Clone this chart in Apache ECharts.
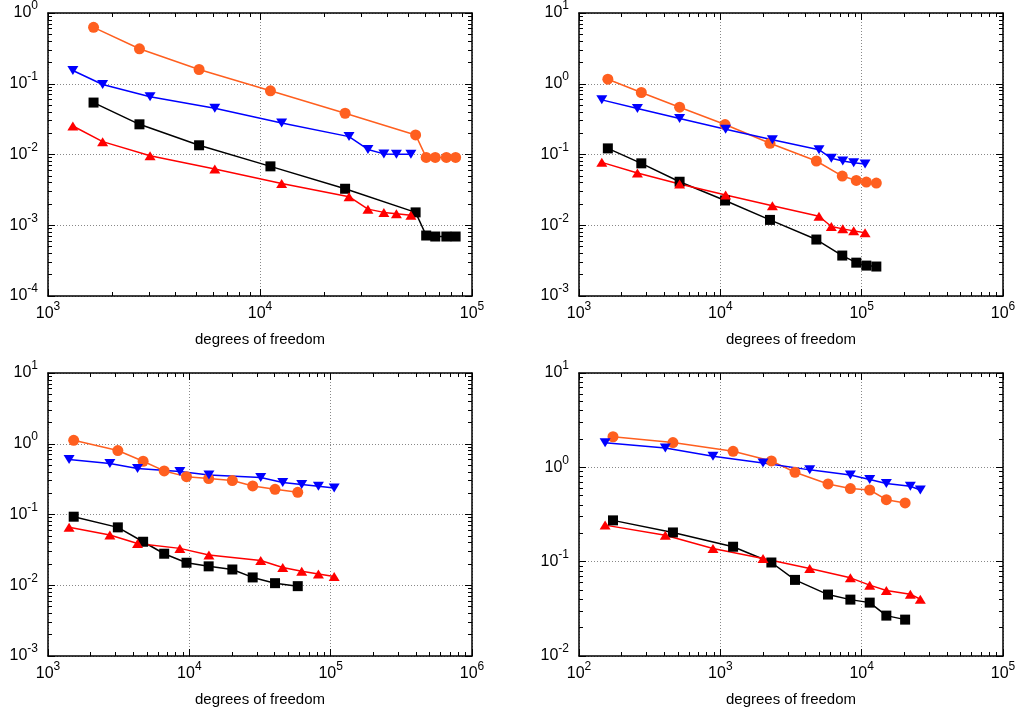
<!DOCTYPE html>
<html lang="en">
<head>
<meta charset="UTF-8">
<title>degrees of freedom</title>
<style>
  * { margin: 0; padding: 0; box-sizing: border-box; }
  html, body { width: 100%; height: 100%; background: #fff; }
  #chart { width: 1019px; height: 712px; }
</style>
</head>
<body>
<div id="chart"></div>
<script src="https://cdn.jsdelivr.net/npm/echarts@6/dist/echarts.min.js"></script>
<script>
  const FONT = '"Liberation Sans", Arial, Helvetica, sans-serif'

  // top left
  const p1XTicks = [1e3, 1e4, 1e5]
  const p1YTicks = [1e-4, 1e-3, 1e-2, 1e-1, 1e0]
  const p1XA = [1640, 2700, 5160, 11200, 25200, 54200, 60800, 67100, 75700, 83700]
  const p1XB = [1310, 1810, 3030, 6120, 12650, 26300, 32300, 38400, 44000, 51500]
  const p1Orange = [0.627, 0.312, 0.159, 0.0794, 0.0383, 0.0189, 0.0091, 0.0091, 0.0091, 0.0091]
  const p1Black = [0.0542, 0.0267, 0.0135, 0.0068, 0.00328, 0.00152, 0.000716, 0.000693, 0.000693, 0.000693]
  const p1Blue = [0.154, 0.0976, 0.0653, 0.0451, 0.0279, 0.0179, 0.0118, 0.0102, 0.0101, 0.0101]
  const p1Red = [0.0253, 0.0152, 0.00962, 0.00623, 0.0039, 0.00253, 0.00169, 0.00152, 0.00145, 0.00139]

  // top right
  const p2XTicks = [1e3, 1e4, 1e5, 1e6]
  const p2YTicks = [1e-3, 1e-2, 1e-1, 1e0, 1e1]
  const p2XA = [1600, 2760, 5150, 10800, 22450, 47800, 72900, 91600, 107900, 127000]
  const p2XB = [1450, 2590, 5150, 10900, 23350, 49900, 61000, 73500, 87800, 105700]
  const p2Orange = [1.16, 0.752, 0.466, 0.265, 0.144, 0.0809, 0.0496, 0.043, 0.0408, 0.0394]
  const p2Black = [0.122, 0.075, 0.0412, 0.0224, 0.0119, 0.00628, 0.00373, 0.00296, 0.00269, 0.00261]
  const p2Blue = [0.592, 0.446, 0.322, 0.227, 0.162, 0.117, 0.0883, 0.0809, 0.0766, 0.0733]
  const p2Red = [0.0774, 0.0547, 0.0382, 0.0267, 0.0188, 0.0134, 0.0096, 0.00889, 0.00833, 0.00781]

  // bottom left
  const p3XTicks = [1e3, 1e4, 1e5, 1e6]
  const p3YTicks = [1e-3, 1e-2, 1e-1, 1e0, 1e1]
  const p3XA = [1520, 3120, 4710, 6640, 9550, 13700, 20150, 28070, 40400, 58500]
  const p3XB = [1410, 2740, 4300, 8570, 13760, 32000, 45800, 62400, 81900, 105900]
  const p3Orange = [1.12, 0.802, 0.566, 0.413, 0.343, 0.322, 0.302, 0.253, 0.227, 0.206]
  const p3Black = [0.0931, 0.0658, 0.0412, 0.0279, 0.0208, 0.0185, 0.0167, 0.0129, 0.0107, 0.00971]
  const p3Blue = [0.598, 0.525, 0.446, 0.404, 0.363, 0.333, 0.283, 0.265, 0.251, 0.237]
  const p3Red = [0.0658, 0.0513, 0.039, 0.0332, 0.0267, 0.0224, 0.0178, 0.0158, 0.0144, 0.0133]

  // bottom right
  const p4XTicks = [1e2, 1e3, 1e4, 1e5]
  const p4YTicks = [1e-2, 1e-1, 1e0, 1e1]
  const p4XA = [174, 462, 1231, 2297, 3375, 5780, 8320, 11400, 14950, 20300]
  const p4XB = [153, 408, 887, 2005, 4290, 8320, 11400, 14950, 22100, 26000]
  const p4Orange = [2.11, 1.83, 1.48, 1.17, 0.887, 0.667, 0.595, 0.575, 0.454, 0.419]
  const p4Black = [0.274, 0.204, 0.144, 0.098, 0.0641, 0.0448, 0.0396, 0.0368, 0.0268, 0.0243]
  const p4Blue = [1.82, 1.6, 1.31, 1.11, 0.94, 0.831, 0.742, 0.673, 0.63, 0.575]
  const p4Red = [0.244, 0.191, 0.138, 0.108, 0.0847, 0.0674, 0.0564, 0.0495, 0.0452, 0.04]

  const panels = [
    { xTicks: p1XTicks, yTicks: p1YTicks, xA: p1XA, xB: p1XB, orange: p1Orange, black: p1Black, blue: p1Blue, red: p1Red },
    { xTicks: p2XTicks, yTicks: p2YTicks, xA: p2XA, xB: p2XB, orange: p2Orange, black: p2Black, blue: p2Blue, red: p2Red },
    { xTicks: p3XTicks, yTicks: p3YTicks, xA: p3XA, xB: p3XB, orange: p3Orange, black: p3Black, blue: p3Blue, red: p3Red },
    { xTicks: p4XTicks, yTicks: p4YTicks, xA: p4XA, xB: p4XB, orange: p4Orange, black: p4Black, blue: p4Blue, red: p4Red }
  ]
  const boxes = [[48, 13], [579, 13], [48, 373], [579, 373]]

  // 2..9 inside each decade
  function minors(ticks) {
    const out = []
    for (let i = 0; i < ticks.length - 1; i++) {
      for (let k = 2; k <= 9; k++) out.push(k * ticks[i])
    }
    return out
  }

  const label = {
    margin: 6,
    formatter: v => '{b|10}{s|' + Math.round(Math.log10(v)) + '}',
    rich: {
      b: { fontSize: 16, lineHeight: 26, fontFamily: FONT, color: '#000' },
      s: { fontSize: 12, lineHeight: 10, verticalAlign: 'top', fontFamily: FONT, color: '#000' }
    }
  }
  const frame = { show: true, onZero: false, lineStyle: { color: '#000', width: 1.5 } }
  const noLine = { show: false, onZero: false }
  const grid = { show: true, lineStyle: { color: '#888', width: 1, type: [1, 2] } }

  function axes(g, ticks, dim) {
    const base = { type: 'log', logBase: 10, gridIndex: g, min: ticks[0], max: ticks[ticks.length - 1] }
    const pos = dim === 'x' ? ['bottom', 'top'] : ['left', 'right']
    const major = { inside: true, length: 7, lineStyle: { color: '#000', width: 1 } }
    const minor = { inside: true, length: 4, customValues: minors(ticks), lineStyle: { color: '#000', width: 1 } }
    const main = Object.assign({}, base, {
      position: pos[0], axisLine: frame, axisTick: major,
      axisLabel: Object.assign({}, label, { margin: dim === 'x' ? 5 : 10 }),
      splitLine: grid
    })
    if (dim === 'x') {
      Object.assign(main, {
        name: 'degrees of freedom', nameLocation: 'middle', nameGap: 36,
        nameTextStyle: { fontSize: 15, fontFamily: FONT, color: '#000' }
      })
    }
    return [
      main,
      Object.assign({}, base, { position: pos[0], axisLine: noLine, axisTick: minor, axisLabel: { show: false }, splitLine: { show: false } }),
      Object.assign({}, base, { position: pos[1], axisLine: frame, axisTick: major, axisLabel: { show: false }, splitLine: { show: false } }),
      Object.assign({}, base, { position: pos[1], axisLine: noLine, axisTick: minor, axisLabel: { show: false }, splitLine: { show: false } })
    ]
  }

  function line(g, xs, ys, color, symbol, size, rotate) {
    return {
      type: 'line', xAxisIndex: g * 4, yAxisIndex: g * 4,
      data: xs.map((x, i) => [x, ys[i]]),
      symbol: symbol, symbolSize: size, symbolRotate: rotate || 0,
      showAllSymbol: true, animation: false,
      lineStyle: { color: color, width: 1.5 },
      itemStyle: { color: color, borderWidth: 0 }
    }
  }

  const grids = [], xAxis = [], yAxis = [], series = []
  panels.forEach((p, g) => {
    grids.push({ left: boxes[g][0], top: boxes[g][1], width: 424, height: 283, outerBoundsMode: 'none', containLabel: false })
    xAxis.push(...axes(g, p.xTicks, 'x'))
    yAxis.push(...axes(g, p.yTicks, 'y'))
    series.push(
      line(g, p.xA, p.orange, '#ff5f1f', 'circle', 11),
      line(g, p.xB, p.blue, '#0000ff', 'triangle', [11, 9], 180),
      line(g, p.xA, p.black, '#000000', 'rect', 10),
      line(g, p.xB, p.red, '#ff0000', 'triangle', [11, 9])
    )
  })

  const chart = echarts.init(document.getElementById('chart'))
  chart.setOption({
    backgroundColor: '#fff',
    animation: false,
    grid: grids,
    xAxis: xAxis,
    yAxis: yAxis,
    series: series
  })
</script>
</body>
</html>
